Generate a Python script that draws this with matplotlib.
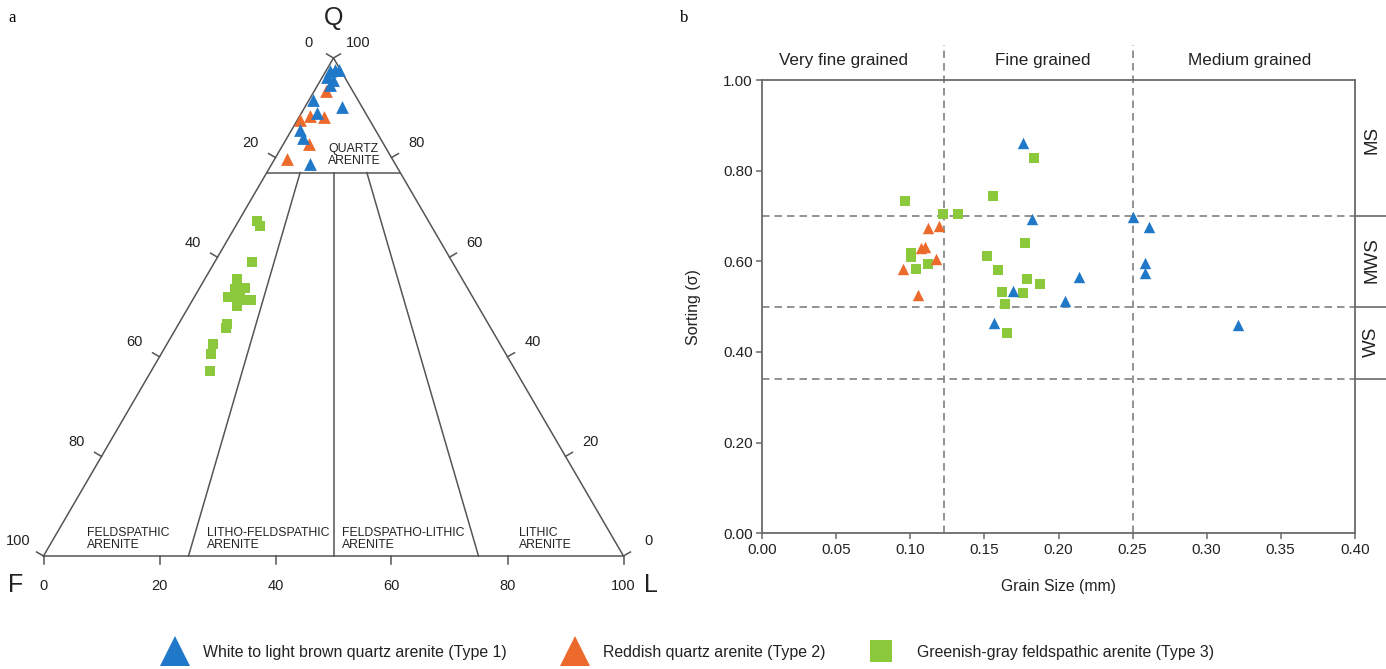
import matplotlib
matplotlib.use("Agg")
import matplotlib.pyplot as plt
from matplotlib.lines import Line2D
import numpy as np

plt.rcParams['font.family'] = ['Liberation Sans', 'DejaVu Sans']

# ---------------- data: ternary QFL (percent) ----------------
t1_Q = [97.3, 97.6, 97.6, 96.1, 95.6, 94.6, 91.6, 88.9, 90.1, 85.5, 83.9, 78.7]
t1_F = [1.9, 0.9, 0.3, 3.0, 2.3, 3.3, 7.7, 8.4, 3.4, 13.0, 13.3, 14.7]
t1_L = [0.8, 1.5, 2.1, 0.9, 2.1, 2.1, 0.7, 2.7, 6.5, 1.5, 2.8, 6.6]

t2_Q = [93.4, 87.6, 88.4, 88.1, 82.7, 79.7]
t2_F = [4.6, 12.0, 9.8, 7.6, 12.8, 18.2]
t2_L = [2.0, 0.4, 1.8, 4.3, 4.5, 2.1]

t3_Q = [67.3, 66.3, 59.0, 55.6, 53.6, 53.8, 52.1, 52.1, 51.5, 51.5, 50.2, 52.8,
        46.6, 45.7, 42.6, 40.6, 37.2]
t3_F = [29.5, 29.5, 34.6, 38.8, 40.2, 38.4, 42.1, 40.6, 39.2, 38.4, 41.6, 39.7,
        45.1, 45.7, 49.4, 50.9, 52.7]
t3_L = [3.2, 4.2, 6.4, 5.6, 6.2, 7.8, 5.8, 7.3, 9.3, 10.1, 8.2, 7.5,
        8.3, 8.6, 8.0, 8.5, 10.1]

# ---------------- data: grain size vs sorting ----------------
s1_size = [0.176, 0.182, 0.2505, 0.261, 0.2586, 0.2584, 0.2136, 0.1695, 0.2046, 0.1562, 0.321]
s1_sort = [0.862, 0.693, 0.698, 0.675, 0.596, 0.574, 0.565, 0.535, 0.513, 0.465, 0.460]

s2_size = [0.1117, 0.1195, 0.107, 0.110, 0.1175, 0.0952, 0.1053]
s2_sort = [0.673, 0.679, 0.630, 0.631, 0.606, 0.584, 0.525]

s3_size = [0.0964, 0.1222, 0.1324, 0.156, 0.1832, 0.1002, 0.1002, 0.1036, 0.1121,
           0.1774, 0.1515, 0.1589, 0.1785, 0.1877, 0.1616, 0.1758, 0.1637, 0.1652]
s3_sort = [0.732, 0.705, 0.705, 0.745, 0.828, 0.619, 0.609, 0.582, 0.594,
           0.640, 0.612, 0.580, 0.561, 0.550, 0.533, 0.531, 0.505, 0.441]

size_bounds = [0.123, 0.25]
size_classes = ["Very fine grained", "Fine grained", "Medium grained"]
size_class_x = [0.0545, 0.1895, 0.329]
sort_bounds = [0.70, 0.50, 0.34]
sort_classes = ["MS", "MWS", "WS"]
sort_class_y = [0.867, 0.603, 0.422]

x_ticks = [0.00, 0.05, 0.10, 0.15, 0.20, 0.25, 0.30, 0.35, 0.40]
y_ticks = [0.00, 0.20, 0.40, 0.60, 0.80, 1.00]

tern_ticks = [0, 20, 40, 60, 80, 100]
qa_limit = 77
div_L = [25, 50, 75]

legend_labels = ["White to light brown quartz arenite (Type 1)",
                 "Reddish quartz arenite (Type 2)",
                 "Greenish-gray feldspathic arenite (Type 3)"]

C_BLUE = "#1f78c8"
C_ORANGE = "#ec6a2c"
C_GREEN = "#8cc83c"
C_LINE = "#555555"
C_DASH = "#808080"
C_TXT = "#222222"

W, H = 1386, 669
fig = plt.figure(figsize=(W / 100, H / 100), dpi=100)

# ================= ternary (pixel-like coords) =================
axt = fig.add_axes([0, 0, 693 / W, 1])
axt.set_xlim(0, 693)
axt.set_ylim(669, 0)
axt.axis('off')

VF = np.array([43.5, 556.0])
VL = np.array([623.5, 556.0])
VQ = np.array([333.5, 58.0])


def tern(q, f, l):
    q = np.asarray(q, float); f = np.asarray(f, float); l = np.asarray(l, float)
    s = q + f + l
    q, f, l = q / s, f / s, l / s
    x = f * VF[0] + l * VL[0] + q * VQ[0]
    y = f * VF[1] + l * VL[1] + q * VQ[1]
    return x, y


lw = 1.1
xs, ys = tern([0, 0, 100, 0], [100, 0, 0, 100], [0, 100, 0, 0])
axt.plot(xs, ys, color=C_LINE, lw=lw, solid_joinstyle='miter')
xs, ys = tern([qa_limit, qa_limit], [100 - qa_limit, 0], [0, 100 - qa_limit])
axt.plot(xs, ys, color=C_LINE, lw=lw)
for v in div_L:
    r = (100 - qa_limit) / 100
    xs, ys = tern([0, qa_limit], [100 - v, (100 - v) * r], [v, v * r])
    axt.plot(xs, ys, color=C_LINE, lw=lw)


def unit(v):
    v = np.asarray(v, float)
    return v / np.hypot(*v)


nL = unit([-(VQ - VF)[1], (VQ - VF)[0]])
if nL[0] > 0:
    nL = -nL
nR = unit([-(VQ - VL)[1], (VQ - VL)[0]])
if nR[0] < 0:
    nR = -nR
tl = 8
fs_num = 10.5
for v in tern_ticks:
    x0, y0 = tern(100 - v, v, 0)
    axt.plot([x0, x0 + tl * nL[0]], [y0, y0 + tl * nL[1]], color=C_LINE, lw=lw)
    axt.text(x0 + 29 * nL[0], y0 + 29 * nL[1], str(v), ha='center', va='center',
             fontsize=fs_num, color=C_TXT)
    x0, y0 = tern(v, 0, 100 - v)
    axt.plot([x0, x0 + tl * nR[0]], [y0, y0 + tl * nR[1]], color=C_LINE, lw=lw)
    axt.text(x0 + 29 * nR[0], y0 + 29 * nR[1], str(v), ha='center', va='center',
             fontsize=fs_num, color=C_TXT)
    x0, y0 = tern(0, 100 - v, v)
    axt.plot([x0, x0], [y0, y0 + tl], color=C_LINE, lw=lw)
    axt.text(x0, y0 + 30, str(v), ha='center', va='center', fontsize=fs_num,
             color=C_TXT)

axt.text(VQ[0], 18, "Q", ha='center', va='center', fontsize=18, color=C_TXT)
axt.text(16, 585, "F", ha='center', va='center', fontsize=18, color=C_TXT)
axt.text(651, 585, "L", ha='center', va='center', fontsize=18, color=C_TXT)

fs_reg = 8.8
axt.text(328, 155, "QUARTZ\nARENITE", ha='left', va='center', fontsize=fs_reg,
         linespacing=1.1, color=C_TXT)
for xl, txt in zip([87, 207, 342, 519],
                   ["FELDSPATHIC\nARENITE", "LITHO-FELDSPATHIC\nARENITE",
                    "FELDSPATHO-LITHIC\nARENITE", "LITHIC\nARENITE"]):
    axt.text(xl, 539, txt, ha='left', va='center', fontsize=fs_reg,
             linespacing=1.0, color=C_TXT)

x1, y1 = tern(t1_Q, t1_F, t1_L)
x2, y2 = tern(t2_Q, t2_F, t2_L)
x3, y3 = tern(t3_Q, t3_F, t3_L)
axt.scatter(x3, y3, marker='s', s=7.3 ** 2, color=C_GREEN, lw=0, zorder=3)
axt.scatter(x2, y2, marker='^', s=9.2 ** 2, color=C_ORANGE, lw=0, zorder=4)
axt.scatter(x1, y1, marker='^', s=9.2 ** 2, color=C_BLUE, lw=0, zorder=5)

# ================= grain size vs sorting =================
ax = fig.add_axes([762.3 / W, 1 - 533.3 / H, (1354.7 - 762.3) / W, (533.3 - 80) / H])
ax.set_xlim(0, 0.40)
ax.set_ylim(0, 1.0)
for sp in ax.spines.values():
    sp.set_color('#6a6a6a')
    sp.set_linewidth(1.3)
ax.set_xticks(x_ticks)
ax.set_xticklabels([f"{v:.2f}" for v in x_ticks])
ax.set_yticks(y_ticks)
ax.set_yticklabels([f"{v:.2f}" for v in y_ticks])
ax.tick_params(direction='out', length=4, width=1.1, color='#6a6a6a',
               labelsize=11, labelcolor=C_TXT, pad=3)
ax.set_xlabel("Grain Size (mm)", fontsize=11.3, color=C_TXT, labelpad=16)
ax.set_ylabel("Sorting (σ)", fontsize=11.5, color=C_TXT, labelpad=16)

for xb in size_bounds:
    ax.plot([xb, xb], [0, 1.077], color=C_DASH, lw=1.2, ls=(0, (4.5, 3)),
            clip_on=False, zorder=1)
for yb in sort_bounds:
    ax.plot([0, 0.40], [yb, yb], color=C_DASH, lw=1.2, ls=(0, (4.5, 3)),
            clip_on=False, zorder=1)
    ax.plot([0.40, 0.43], [yb, yb], color='#6a6a6a', lw=1.2, clip_on=False,
            zorder=1)
for xc, txt in zip(size_class_x, size_classes):
    ax.text(xc, 1.044, txt, ha='center', va='center', fontsize=12.3,
            color=C_TXT, clip_on=False)
for yc, txt in zip(sort_class_y, sort_classes):
    ax.text(0.4115, yc, txt, ha='center', va='center', rotation=90,
            fontsize=13.5, color=C_TXT, clip_on=False)

ax.scatter(s3_size, s3_sort, marker='s', s=7 ** 2, color=C_GREEN, lw=0, zorder=3)
ax.scatter(s2_size, s2_sort, marker='^', s=8.2 ** 2, color=C_ORANGE, lw=0, zorder=4)
ax.scatter(s1_size, s1_sort, marker='^', s=8.2 ** 2, color=C_BLUE, lw=0, zorder=5)

# ================= panel letters =================
fig.text(8 / W, 1 - 18 / H, "a", fontsize=12, family='Liberation Serif',
         ha='left', va='center')
fig.text(680 / W, 1 - 18 / H, "b", fontsize=12, family='Liberation Serif',
         ha='left', va='center')

# ================= legend (three entries placed individually) =================
leg_fs = 11.4
em = leg_fs * 100 / 72.0
handles = [Line2D([], [], marker='^', ls='none', color=C_BLUE, markersize=21, mew=0),
           Line2D([], [], marker='^', ls='none', color=C_ORANGE, markersize=21, mew=0),
           Line2D([], [], marker='s', ls='none', color=C_GREEN, markersize=16, mew=0)]
marker_cx = [175, 575, 881]
text_x0 = [203, 603, 917]
hl = 1.6
for hnd, lab, cx, tx in zip(handles, legend_labels, marker_cx, text_x0):
    anchor = cx - hl * em / 2
    pad = (tx - anchor - hl * em) / em
    lg = fig.legend([hnd], [lab], loc='center left',
                    bbox_to_anchor=(anchor / W, 1 - 652 / H),
                    frameon=False, fontsize=leg_fs, handlelength=hl,
                    handletextpad=pad, borderpad=0, borderaxespad=0,
                    labelcolor=C_TXT)

fig.savefig("out.png", dpi=100)
